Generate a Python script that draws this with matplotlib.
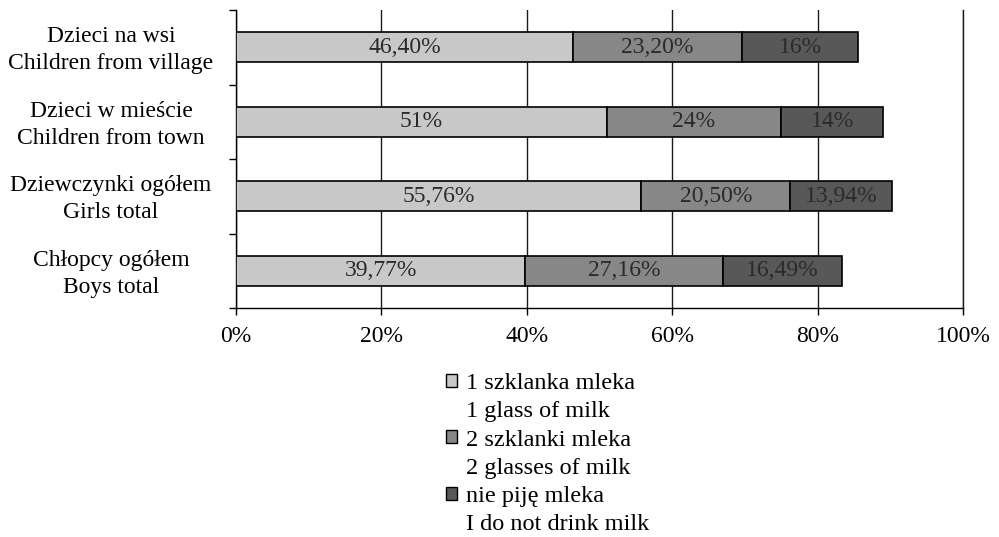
import matplotlib.pyplot as plt
from matplotlib.patches import Patch
from matplotlib.transforms import ScaledTranslation
import numpy as np

plt.rcParams['font.family'] = ['Liberation Serif', 'DejaVu Serif']

# dane
kategorie = ["Dzieci na wsi\nChildren from village",
             "Dzieci w mieście\nChildren from town",
             "Dziewczynki ogółem\nGirls total",
             "Chłopcy ogółem\nBoys total"]

jedna_szklanka = [46.40, 51, 55.76, 39.77]
dwie_szklanki = [23.20, 24, 20.50, 27.16]
nie_pije = [16, 14, 13.94, 16.49]

etykiety_1 = ["46,40%", "51%", "55,76%", "39,77%"]
etykiety_2 = ["23,20%", "24%", "20,50%", "27,16%"]
etykiety_3 = ["16%", "14%", "13,94%", "16,49%"]

serie_pl = ["1 szklanka mleka", "2 szklanki mleka", "nie piję mleka"]
serie_en = ["1 glass of milk", "2 glasses of milk", "I do not drink milk"]
kolory = ['#c8c8c8', '#878787', '#585858']

ROZMIAR = 17

fig = plt.figure(figsize=(9.99, 5.37), dpi=100)
ax = fig.add_axes([236 / 999, 1 - 308 / 537, 727 / 999, 298 / 537])

y = np.arange(len(kategorie))
lewo = np.zeros(len(kategorie))
for wartosci, etykiety, kolor in zip([jedna_szklanka, dwie_szklanki, nie_pije],
                                     [etykiety_1, etykiety_2, etykiety_3], kolory):
    bary = ax.barh(y, wartosci, left=lewo, height=0.4, color=kolor,
                   edgecolor='black', linewidth=1.2, zorder=3)
    ax.bar_label(bary, labels=etykiety, label_type='center', fontsize=ROZMIAR,
                 color='#2a2a2a')
    lewo += np.array(wartosci)

ax.set_xlim(0, 100)
ax.set_ylim(3.5, -0.5)
ax.set_xticks(np.arange(0, 101, 20))
ax.set_xticklabels([f"{v}%" for v in range(0, 101, 20)], fontsize=ROZMIAR)
ax.xaxis.grid(True, color='#1a1a1a', linewidth=1.0, zorder=0)
ax.tick_params(axis='x', direction='out', length=5, width=1.0, pad=8)

ax.set_yticks(y)
ax.set_yticklabels(kategorie, fontsize=ROZMIAR, ha='center', va='center',
                   linespacing=1.36)
ax.tick_params(axis='y', length=0, pad=90)
# lekko w dół, żeby środek etykiety trafił w środek słupka
przesuniecie = ScaledTranslation(0, -3 / 100, fig.dpi_scale_trans)
for lab in ax.get_yticklabels():
    lab.set_transform(lab.get_transform() + przesuniecie)
ax.set_yticks(np.arange(-0.5, 4, 1), minor=True)
ax.tick_params(axis='y', which='minor', direction='out', length=5, width=1.0)

ax.spines['top'].set_visible(False)
for s in ['left', 'bottom', 'right']:
    ax.spines[s].set_linewidth(1.0)
ax.spines['right'].set_color('#1a1a1a')

# legenda: linia polska z kwadracikiem, angielska pod nią bez
uchwyty, opisy = [], []
for pl, en, k in zip(serie_pl, serie_en, kolory):
    uchwyty.append(Patch(facecolor=k, edgecolor='black', linewidth=1.0))
    opisy.append(pl)
    uchwyty.append(Patch(facecolor='none', edgecolor='none'))
    opisy.append(en)

fig.legend(uchwyty, opisy, loc='upper left',
           bbox_to_anchor=(446 / 999, 1 - 373 / 537),
           frameon=False, fontsize=17.5, handlelength=0.44, handleheight=0.44,
           handletextpad=0.4, labelspacing=0.3, borderpad=0, borderaxespad=0)

fig.savefig('out.png', dpi=100)
